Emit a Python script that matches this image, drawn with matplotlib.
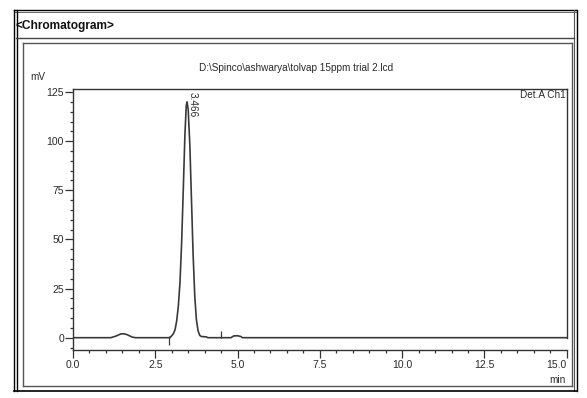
import matplotlib
matplotlib.use('Agg')
import matplotlib.pyplot as plt
from matplotlib.lines import Line2D
from matplotlib.ticker import MultipleLocator, FixedLocator, FixedFormatter

# chromatogram trace (time in min, signal in mV)
time_min = [0.0, 1.15, 1.30, 1.45, 1.55, 1.65, 1.80, 1.90, 2.95,
            3.00, 3.05, 3.10, 3.15, 3.20, 3.25, 3.30, 3.35, 3.40, 3.44,
            3.466, 3.50, 3.55, 3.60, 3.65, 3.70, 3.75, 3.80, 3.85, 3.90,
            4.05, 4.10, 4.80, 4.88, 5.00, 5.10, 5.15, 15.0]
signal_mv = [0.0, 0.0, 0.8, 1.9, 2.0, 1.5, 0.3, 0.0, 0.0,
             1.0, 2.0, 4.0, 8.5, 16.0, 28.0, 48.0, 75.0, 103.0, 118.0,
             120.0, 116.0, 98.0, 70.0, 42.0, 21.0, 9.0, 3.5, 1.2, 0.6,
             0.4, 0.0, 0.0, 0.9, 1.0, 0.6, 0.0, 0.0]

peak_time = 3.466
peak_label = "3.466"
# integration start / end marks
mark_times = [2.92, 4.49]
mark_low = [-3.7, 0.0]
mark_high = [0.9, 3.5]

x_ticks = [0.0, 2.5, 5.0, 7.5, 10.0, 12.5, 15.0]
x_labels = ["0.0", "2.5", "5.0", "7.5", "10.0", "12.5", "15.0"]
y_ticks = [0, 25, 50, 75, 100, 125]
y_labels = ["0", "25", "50", "75", "100", "125"]

title = r"D:\Spinco\ashwarya\tolvap 15ppm trial 2.lcd"

W, H = 587, 398
NARROW = ['Liberation Sans Narrow', 'Liberation Sans', 'DejaVu Sans']
INK = '#2a2a2a'

fig = plt.figure(figsize=(W / 100, H / 100), dpi=100)
fig.patch.set_facecolor('white')


def fx(x):
    return x / W


def fy(y):
    return 1 - y / H


def hline(y, x0, x1, lw=1.0, c='black'):
    fig.add_artist(Line2D([fx(x0), fx(x1)], [fy(y), fy(y)], lw=lw, color=c,
                          transform=fig.transFigure, zorder=5))


def vline(x, y0, y1, lw=1.0, c='black'):
    fig.add_artist(Line2D([fx(x), fx(x)], [fy(y0), fy(y1)], lw=lw, color=c,
                          transform=fig.transFigure, zorder=5))


# header text (the "<" is partly hidden behind the frame)
fig.text(fx(15.5), fy(26.5), "<Chromatogram>", fontsize=8.6, weight='bold',
         family=NARROW, color='#111111', va='center', ha='left')

# outer frame
hline(10, 14, 576, lw=1.0)
hline(12, 14, 576, lw=0.7, c='#666666')
vline(14, 10, 391, lw=1.0)
vline(16.5, 10, 391, lw=1.0)
vline(574, 10, 391, lw=0.8, c='#555555')
vline(576.5, 10, 391, lw=1.0)
hline(391, 14, 577, lw=1.2)
hline(37.5, 16, 574, lw=1.0, c='#444444')
# inner box
hline(43, 23, 572, lw=1.0, c='#555555')
hline(386, 23, 572, lw=1.0, c='#555555')
vline(23, 43, 386, lw=1.0, c='#555555')
vline(572, 43, 386, lw=1.0, c='#555555')

fig.text(fx(296), fy(68), title, fontsize=7.2, family=NARROW, color=INK,
         ha='center', va='center')
fig.text(fx(30), fy(77.5), "mV", fontsize=7.2, family=NARROW, color=INK,
         ha='left', va='center')
fig.text(fx(566), fy(380), "min", fontsize=7.2, family=NARROW, color=INK,
         ha='right', va='center')

ax = fig.add_axes([fx(73), fy(350), (566.7 - 73) / W, (350 - 88.5) / H])
ax.plot(time_min, signal_mv, color='#3a3a3a', lw=1.2)
ax.vlines(mark_times, mark_low, mark_high, color='#3a3a3a', lw=0.9)

ax.set_xlim(0, 15)
ax.set_ylim(-6.26, 126.8)

ax.xaxis.set_major_locator(FixedLocator(x_ticks))
ax.xaxis.set_major_formatter(FixedFormatter(x_labels))
ax.xaxis.set_minor_locator(MultipleLocator(0.5))
ax.yaxis.set_major_locator(FixedLocator(y_ticks))
ax.yaxis.set_major_formatter(FixedFormatter(y_labels))
ax.yaxis.set_minor_locator(MultipleLocator(5))

for sp in ax.spines.values():
    sp.set_color('#333333')
    sp.set_linewidth(1.0)
ax.spines['right'].set_bounds(0, 126.8)

ax.tick_params(axis='both', which='major', direction='out', length=5.5,
               width=0.9, color='#333333', labelcolor=INK, labelsize=7.5)
ax.tick_params(axis='both', which='minor', direction='out', length=2.5,
               width=0.9, color='#333333')
ax.tick_params(axis='y', which='major', pad=1)
ax.tick_params(axis='x', which='major', pad=2)
for lab in ax.get_xticklabels() + ax.get_yticklabels():
    lab.set_family(NARROW)
ax.get_xticklabels()[-1].set_ha('right')

ax.text(0.998, 0.975, "Det.A Ch1", transform=ax.transAxes, fontsize=7.2,
        family=NARROW, color=INK, ha='right', va='center')
ax.text(peak_time + 0.18, 125.2, peak_label, rotation=270, fontsize=7.2,
        family=NARROW, color=INK, ha='center', va='top')

fig.savefig('out.png', dpi=100)
